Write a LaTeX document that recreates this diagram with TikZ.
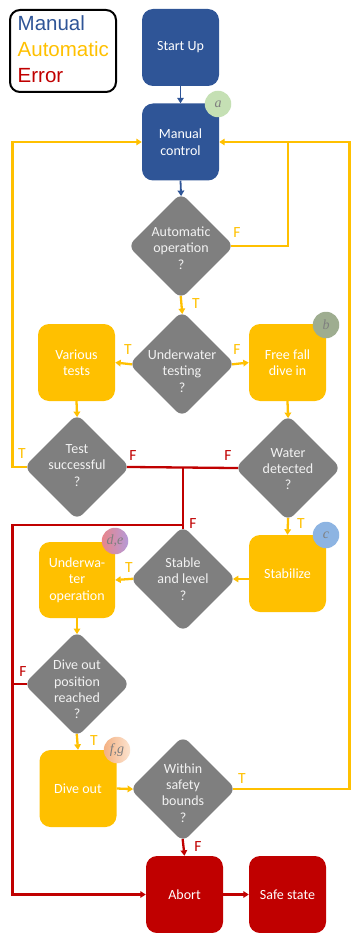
\documentclass[tikz,border=0pt]{standalone}
\usepackage{fontspec}
\setmainfont{Carlito}
\newfontfamily\legendfont{Liberation Sans}
\newfontfamily\badgefont{Liberation Serif}
\usetikzlibrary{shapes.geometric,arrows.meta,calc}
\definecolor{cblue}{HTML}{2F5597}
\definecolor{cyel}{HTML}{FFC000}
\definecolor{cred}{HTML}{C00000}
\definecolor{cgray}{HTML}{7F7F7F}
\definecolor{ctext}{HTML}{F2F2F2}
\definecolor{ca}{HTML}{C5E0B4}
\definecolor{cb}{HTML}{9EAD90}
\definecolor{cc}{HTML}{8DB4E2}
\definecolor{cdl}{HTML}{E8858A}
\definecolor{cdr}{HTML}{B59AD8}
\definecolor{cfl}{HTML}{F4B183}
\definecolor{cfr}{HTML}{FCE4D0}
\begin{document}
\begin{tikzpicture}[x=1pt,y=-1pt,
  boxbase/.style={rectangle, rounded corners=11pt, minimum width=77pt, minimum height=77pt,
    inner sep=2pt, text=white, align=center, font=\fontsize{14}{16.5}\selectfont},
  bbox/.style={boxbase, fill=cblue},
  ybox/.style={boxbase, fill=cyel},
  rbox/.style={boxbase, fill=cred},
  dia/.style={diamond, aspect=1, fill=cgray, rounded corners=8pt, minimum width=106pt,
    minimum height=106pt, inner sep=0pt},
  dtext/.style={text=ctext, align=center, inner sep=0pt, font=\fontsize{14}{16.3}\selectfont},
  badge/.style={circle, minimum size=26.5pt, inner sep=0pt, text=cgray,
    font=\badgefont\itshape\fontsize{14}{14}\selectfont},
  arr/.style={-{Triangle[width=6.5pt,length=5.5pt]}},
  bl/.style={draw=cblue, line width=1.8pt},
  yl/.style={draw=cyel, line width=2.3pt},
  rl/.style={draw=cred, line width=2.3pt},
  tdia/.style={shorten >=-3.3pt},
  fdia/.style={shorten <=-3.3pt},
  lab/.style={inner sep=0pt, font=\fontsize{15.5}{15.5}\selectfont},
  leg/.style={anchor=base west, inner sep=0pt, font=\legendfont\fontsize{20.5}{24}\selectfont},
]
\useasboundingbox (0,0) rectangle (351,933);

% legend
\draw[line width=2pt, rounded corners=10pt] (10,10) rectangle (116,92);
\node[leg, text=cblue] (legM) at (17.5,31) {Manual};
\node[leg, text=cyel] (legA) at (17.5,57) {Automatic};
\node[leg, text=cred] (legE) at (17.5,83) {Error};

% nodes
\node[bbox] (start) at (180.5,47.5) {Start Up};
\node[bbox] (man) at (180.5,142) {Manual\\control};
\node[dia] (auto) at (181,246) {};
\node[dtext] (autoT) at (181,248) {Automatic\\operation\\?};
\node[dia] (uwt) at (182,364) {};
\node[dtext] (uwtT) at (182,371) {Underwater\\testing\\?};
\node[ybox] (var) at (76.5,362.5) {Various\\tests};
\node[ybox] (free) at (287.5,362.5) {Free fall\\dive in};
\node[dia] (test) at (77,467) {};
\node[dtext] (testT) at (77,465.5) {Test\\successful\\?};
\node[dia] (water) at (288,468) {};
\node[dtext] (waterT) at (288,469) {Water\\detected\\?};
\node[ybox] (stab) at (287.5,573.5) {Stabilize};
\node[dia] (stable) at (183,579) {};
\node[dtext] (stableT) at (183,579) {Stable\\and level\\?};
\node[ybox, minimum width=76pt, minimum height=76pt] (uwop) at (77,580) {Underwa-\\ter\\operation};
\node[dia] (dpos) at (77,684) {};
\node[dtext] (dposT) at (77,689.5) {Dive out\\position\\reached\\?};
\node[ybox] (dive) at (78,788.5) {Dive out};
\node[dia] (within) at (183,789) {};
\node[dtext] (withinT) at (183,793) {Within\\safety\\bounds\\?};
\node[rbox] (abort) at (184.5,894.5) {Abort};
\node[rbox] (safe) at (287.5,894.5) {Safe state};

% helper coordinates
\coordinate (xl) at (12.5,0);
\coordinate (xr) at (349.5,0);
\coordinate (jR) at (288,142);
\coordinate (jS) at (183,525);

% connectors
\draw[bl,arr] (start.south) -- (man.north);
\draw[bl,arr,tdia] (man.south) -- (auto.north);
\draw[yl,fdia] (auto.east) -| (jR);
\draw[yl,arr,fdia] (within.east) -- (within.east -| xr) |- (man.east);
\draw[yl,arr,fdia,tdia] (auto.south) -- (uwt.north);
\draw[yl,arr,fdia] (uwt.west) -- (var.east);
\draw[yl,arr,fdia] (uwt.east) -- (free.west);
\draw[yl,arr,tdia] (var.south) -- (test.north);
\draw[yl,arr,tdia] (free.south) -- (water.north);
\draw[yl,arr,fdia] (test.west) -- (test.west -| xl) |- (man.west);
\draw[rl,fdia,tdia] (test.east) -- (water.west);
\draw[rl,fdia] (stable.north) -- (stable.north |- test.east);
\draw[rl,arr] (jS) -- (jS -| xl) |- (abort.west);
\draw[rl,fdia] (dpos.west) -- (dpos.west -| xl);
\draw[yl,arr,fdia] (water.south) -- (stab.north);
\draw[yl,arr,tdia] (stab.west |- stable.east) -- (stable.east);
\draw[yl,arr,fdia] (stable.west) -- (uwop.east);
\draw[yl,arr,tdia] (uwop.south) -- (dpos.north);
\draw[yl,arr,fdia] (dpos.south) -- (dive.north);
\draw[yl,arr,tdia] (dive.east) -- (within.west);
\draw[rl,arr,fdia] (within.south) -- (abort.north);
\draw[rl,arr] (abort.east) -- (safe.west);

% connector labels
\node[lab, text=cyel] (l1) at (237,233) {F};
\node[lab, text=cyel] (l2) at (196,304) {T};
\node[lab, text=cyel] (l3) at (128,350) {T};
\node[lab, text=cyel] (l4) at (237,350) {F};
\node[lab, text=cyel] (l5) at (22,454) {T};
\node[lab, text=cred] (l6) at (133,456) {F};
\node[lab, text=cred] (l7) at (228,456) {F};
\node[lab, text=cred] (l8) at (193,524) {F};
\node[lab, text=cyel] (l9) at (301,524) {T};
\node[lab, text=cyel] (l10) at (129,568) {T};
\node[lab, text=cred] (l11) at (23,672) {F};
\node[lab, text=cyel] (l12) at (94,741) {T};
\node[lab, text=cyel] (l13) at (242,779) {T};
\node[lab, text=cred] (l14) at (198,847) {F};

% badges
\node[badge, fill=ca] (ba) at (218,104) {a};
\node[badge, fill=cb] (bb) at (326,325) {b};
\node[badge, fill=cc] (bc) at (326,535) {c};
\node[badge, left color=cdl, right color=cdr] (bd) at (115,541) {d,e};
\node[badge, left color=cfl, right color=cfr] (bf) at (117,750) {f,g};
\end{tikzpicture}
\end{document}
